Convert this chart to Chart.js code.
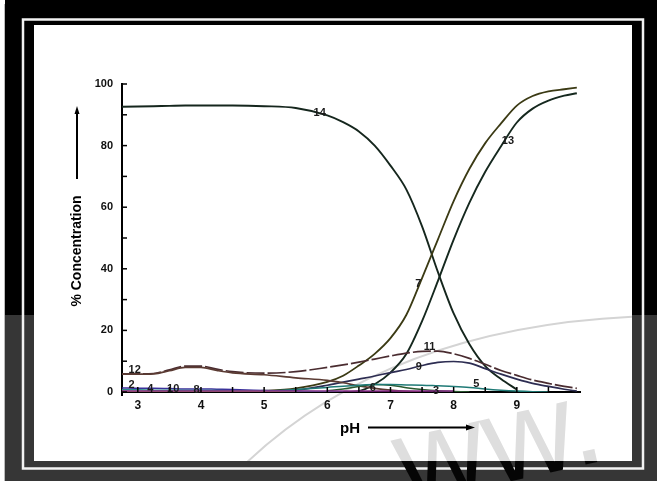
<!DOCTYPE html>
<html>
<head>
<meta charset="utf-8">
<script src="https://cdn.jsdelivr.net/npm/chart.js@4.4.1/dist/chart.umd.min.js"></script>
<style>
  html, body { margin: 0; padding: 0; background: #fff; }
  canvas { display: block; }
</style>
</head>
<body>
<canvas id="speciesChart" width="657" height="481"></canvas>
<script>
// pH grid shared by every species curve
const pH = [2.75, 3, 3.25, 3.5, 3.75, 4, 4.25, 4.5, 5, 5.5, 6, 6.25, 6.5, 6.75, 7, 7.25, 7.5, 7.75, 8, 8.25, 8.5, 8.75, 9, 9.25, 9.5, 9.75, 9.95];

// % concentration of each species (null = not drawn)
const c14 = [92.6, 92.7, 92.8, 92.9, 93, 93, 93, 93, 92.8, 92.2, 89.8, 87.6, 84.6, 80, 73.5, 65.8, 53.8, 39, 25.5, 15.5, 8.4, 4.2, 0.8, null, null, null, null];
const c13 = [null, null, null, null, null, null, null, null, null, null, null, 0, 0.3, 2.5, 6.3, 12.3, 23, 36, 49.5, 61.5, 71.5, 79.8, 87.5, 92, 94.6, 96.2, 97.0];
const c7  = [null, null, null, null, null, null, null, 0.1, 0.4, 1.2, 3.3, 5.3, 8.6, 12.4, 17.5, 25, 37, 49.5, 62, 72.5, 80.8, 87.2, 93, 96.1, 97.6, 98.3, 98.8];
const c12 = [5.8, 5.8, 5.9, 6.9, 8.0, 8.0, 7.0, 6.2, 5.6, 4.6, 3.8, 3.0, 2.0, 1.2, 0.6, 0.2, 0, null, null, null, null, null, null, null, null, null, null];
const c11 = [5.9, 5.9, 6.0, 7.2, 8.4, 8.4, 7.4, 6.6, 6.1, 6.6, 8.0, 8.8, 9.7, 10.7, 11.7, 12.6, 13.2, 13.3, 12.4, 10.9, 9.0, 7.0, 5.4, 3.9, 2.8, 1.8, 1.2];
const c9  = [null, null, null, null, null, null, null, null, 0, 0.6, 2.2, 3.2, 4.2, 5.2, 6.3, 7.3, 8.6, 9.6, 9.9, 9.4, 7.6, 5.8, 4.2, 2.8, 1.8, 0.9, 0.3];
const c5  = [null, null, null, null, null, null, null, null, 0.2, 0.8, 1.5, 1.9, 2.2, 2.4, 2.4, 2.3, 2.2, 2.0, 1.8, 1.5, 1.0, 0.6, 0.3, 0.1, 0, null, null];
const c6  = [null, null, null, null, null, null, null, null, null, null, 0.4, 1.0, 1.8, 2.4, 2.2, 1.4, 0.8, 0.4, 0.2, 0, null, null, null, null, null, null, null];
const c2  = [1.3, 1.2, 1.2, 1.1, 1.0, 1.0, 0.9, 0.8, 0.5, 0.2, 0, null, null, null, null, null, null, null, null, null, null, null, null, null, null, null, null];
const c8  = [0.3, 0.3, 0.3, 0.3, 0.3, 0.3, 0.3, 0.3, 0.3, 0.3, 0.3, 0.3, 0.3, 0.3, 0.3, 0.3, 0.3, 0.3, 0.3, null, null, null, null, null, null, null, null];
const c4  = [0.7, 0.7, 0.6, 0.6, 0.5, 0.5, 0.5, 0.4, 0.3, 0.2, 0.1, 0, null, null, null, null, null, null, null, null, null, null, null, null, null, null, null];
const c10 = [0.2, 0.2, 0.2, 0.2, 0.2, 0.2, 0.2, 0.2, 0.1, 0, null, null, null, null, null, null, null, null, null, null, null, null, null, null, null, null, null];

// curve number labels and where they sit (pH, %)
const labelText = ['14', '13', '7', '11', '9', '12', '5', '2', '4', '10', '8', '6', '3'];
const labelPH   = [5.88, 8.86, 7.44, 7.62, 7.45, 2.95, 8.36, 2.9, 3.2, 3.56, 3.93, 6.72, 7.72];
const labelPct  = [90.5, 81.5, 35, 14.6, 8.0, 7.0, 2.6, 2.2, 1.0, 1.0, 0.8, 1.4, 0.4];

const xTicks = [3, 4, 5, 6, 7, 8, 9];

const series = [
    { name: '8', data: c8, color: '#8a2a8a', width: 1.5 },
    { name: '10', data: c10, color: '#9a9a2a', width: 1.5 },
    { name: '4', data: c4, color: '#2a8c8c', width: 1.5 },
    { name: '2', data: c2, color: '#3a2f9a', width: 1.5 },
    { name: '5', data: c5, color: '#1f7a76', width: 1.5 },
    { name: '6', data: c6, color: '#2a5a30', width: 1.5 },
    { name: '12', data: c12, color: '#5b3b33', width: 1.7 },
    { name: '11', data: c11, color: '#4a2c30', width: 1.7, dash: [18, 3] },
    { name: '9', data: c9, color: '#2d2d52', width: 1.7 },
    { name: '7', data: c7, color: '#3b3a14', width: 1.8 },
    { name: '13', data: c13, color: '#15281e', width: 1.9 },
    { name: '14', data: c14, color: '#15261d', width: 1.9 }
];

const FONT = '"Liberation Sans", Arial, Helvetica, sans-serif';

function drawWatermarkText(ctx, color) {
    ctx.save();
    ctx.translate(405, 505);
    ctx.rotate(-0.22);
    ctx.font = '125px ' + FONT;
    ctx.textAlign = 'left';
    ctx.textBaseline = 'alphabetic';
    ctx.fillStyle = color;
    ctx.fillText('ww.', 0, 0);
    ctx.restore();
}

const framePlugin = {
    id: 'frame',
    beforeDraw(chart) {
        const ctx = chart.ctx;
        ctx.save();
        ctx.fillStyle = '#ffffff';
        ctx.fillRect(0, 0, 657, 481);
        ctx.fillStyle = '#000000';
        ctx.fillRect(5, 0, 652, 481);
        // lighter band of the watermark overlay
        ctx.fillStyle = '#363636';
        ctx.fillRect(5, 315, 652, 166);
        ctx.strokeStyle = '#bbbbbb';
        ctx.lineWidth = 1;
        ctx.beginPath();
        ctx.moveTo(4.5, 4);
        ctx.lineTo(4.5, 481);
        ctx.stroke();
        // double border
        ctx.strokeStyle = '#f2f2f2';
        ctx.lineWidth = 2.5;
        ctx.strokeRect(23, 19.5, 620, 449);
        ctx.restore();

        // letters show dark where they cross the lower band
        ctx.save();
        ctx.beginPath();
        ctx.rect(5, 461, 652, 20);
        ctx.clip();
        drawWatermarkText(ctx, '#050505');
        ctx.restore();

        ctx.save();
        ctx.fillStyle = '#ffffff';
        ctx.fillRect(34, 25, 598, 436);
        ctx.beginPath();
        ctx.rect(34, 25, 598, 436);
        ctx.clip();
        drawWatermarkText(ctx, '#dedede');
        ctx.strokeStyle = '#d4d4d4';
        ctx.lineWidth = 2;
        ctx.beginPath();
        ctx.moveTo(228, 481);
        ctx.quadraticCurveTo(380, 322, 657, 316);
        ctx.stroke();
        ctx.restore();
    },
    afterDraw(chart) {
        const ctx = chart.ctx;
        const xs = chart.scales.x;
        const ys = chart.scales.y;
        const area = chart.chartArea;
        ctx.save();
        ctx.strokeStyle = '#000';
        ctx.lineWidth = 1.5;

        // inward tick marks
        xs.ticks.forEach(t => {
            if (t.value >= xs.max || t.value < xs.min) return;
            const px = xs.getPixelForValue(t.value);
            ctx.beginPath();
            ctx.moveTo(px, area.bottom);
            ctx.lineTo(px, area.bottom - 5);
            ctx.stroke();
        });
        ys.ticks.forEach(t => {
            const py = ys.getPixelForValue(t.value);
            ctx.beginPath();
            ctx.moveTo(area.left, py);
            ctx.lineTo(area.left + 5, py);
            ctx.stroke();
        });
        // y axis runs a little below zero
        ctx.lineWidth = 2;
        ctx.beginPath();
        ctx.moveTo(area.left, area.bottom);
        ctx.lineTo(area.left, area.bottom + 4);
        ctx.stroke();

        // curve numbers
        ctx.fillStyle = '#1a1a1a';
        ctx.font = 'bold 11px ' + FONT;
        ctx.textAlign = 'center';
        ctx.textBaseline = 'middle';
        labelText.forEach((txt, i) => {
            ctx.fillText(txt, xs.getPixelForValue(labelPH[i]), ys.getPixelForValue(labelPct[i]));
        });

        // axis titles with arrows
        ctx.fillStyle = '#000';
        ctx.font = 'bold 14px ' + FONT;
        ctx.save();
        ctx.translate(77, 251);
        ctx.rotate(-Math.PI / 2);
        ctx.fillText('% Concentration', 0, 0);
        ctx.restore();
        ctx.lineWidth = 2;
        ctx.beginPath();
        ctx.moveTo(77, 179);
        ctx.lineTo(77, 112);
        ctx.stroke();
        ctx.beginPath();
        ctx.moveTo(77, 106);
        ctx.lineTo(74.5, 114);
        ctx.lineTo(79.5, 114);
        ctx.closePath();
        ctx.fill();

        ctx.font = 'bold 15px ' + FONT;
        ctx.fillText('pH', 350, 429);
        ctx.beginPath();
        ctx.moveTo(368, 427.5);
        ctx.lineTo(468, 427.5);
        ctx.stroke();
        ctx.beginPath();
        ctx.moveTo(475, 427.5);
        ctx.lineTo(466, 424.5);
        ctx.lineTo(466, 430.5);
        ctx.closePath();
        ctx.fill();
        ctx.restore();
    }
};

const ctx = document.getElementById('speciesChart').getContext('2d');

new Chart(ctx, {
    type: 'line',
    data: {
        datasets: series.map(s => ({
            label: s.name,
            data: pH.map((x, i) => ({ x: x, y: s.data[i] })),
            borderColor: s.color,
            borderWidth: s.width,
            borderDash: s.dash || [],
            pointRadius: 0,
            fill: false,
            spanGaps: false,
            cubicInterpolationMode: 'monotone'
        }))
    },
    options: {
        responsive: false,
        animation: false,
        layout: { padding: { left: 0, top: 84, right: 77, bottom: 49 } },
        plugins: {
            legend: { display: false },
            tooltip: { enabled: false }
        },
        scales: {
            x: {
                type: 'linear',
                min: 2.75,
                max: 10,
                afterFit: scale => { scale.height = 40; },
                grid: { display: false, drawTicks: false },
                border: { display: true, color: '#000', width: 2 },
                ticks: {
                    stepSize: 0.5,
                    includeBounds: false,
                    autoSkip: false,
                    maxRotation: 0,
                    padding: 6,
                    color: '#111',
                    font: { family: FONT, size: 12, weight: 'bold' },
                    callback: v => xTicks.includes(v) ? String(v) : ''
                }
            },
            y: {
                min: 0,
                max: 100,
                afterFit: scale => { scale.width = 122; },
                grid: { display: false, drawTicks: false },
                border: { display: true, color: '#000', width: 2 },
                ticks: {
                    stepSize: 10,
                    padding: 9,
                    color: '#111',
                    font: { family: FONT, size: 11, weight: 'bold' },
                    callback: v => v % 20 === 0 ? String(v) : ''
                }
            }
        }
    },
    plugins: [framePlugin]
});
</script>
</body>
</html>
